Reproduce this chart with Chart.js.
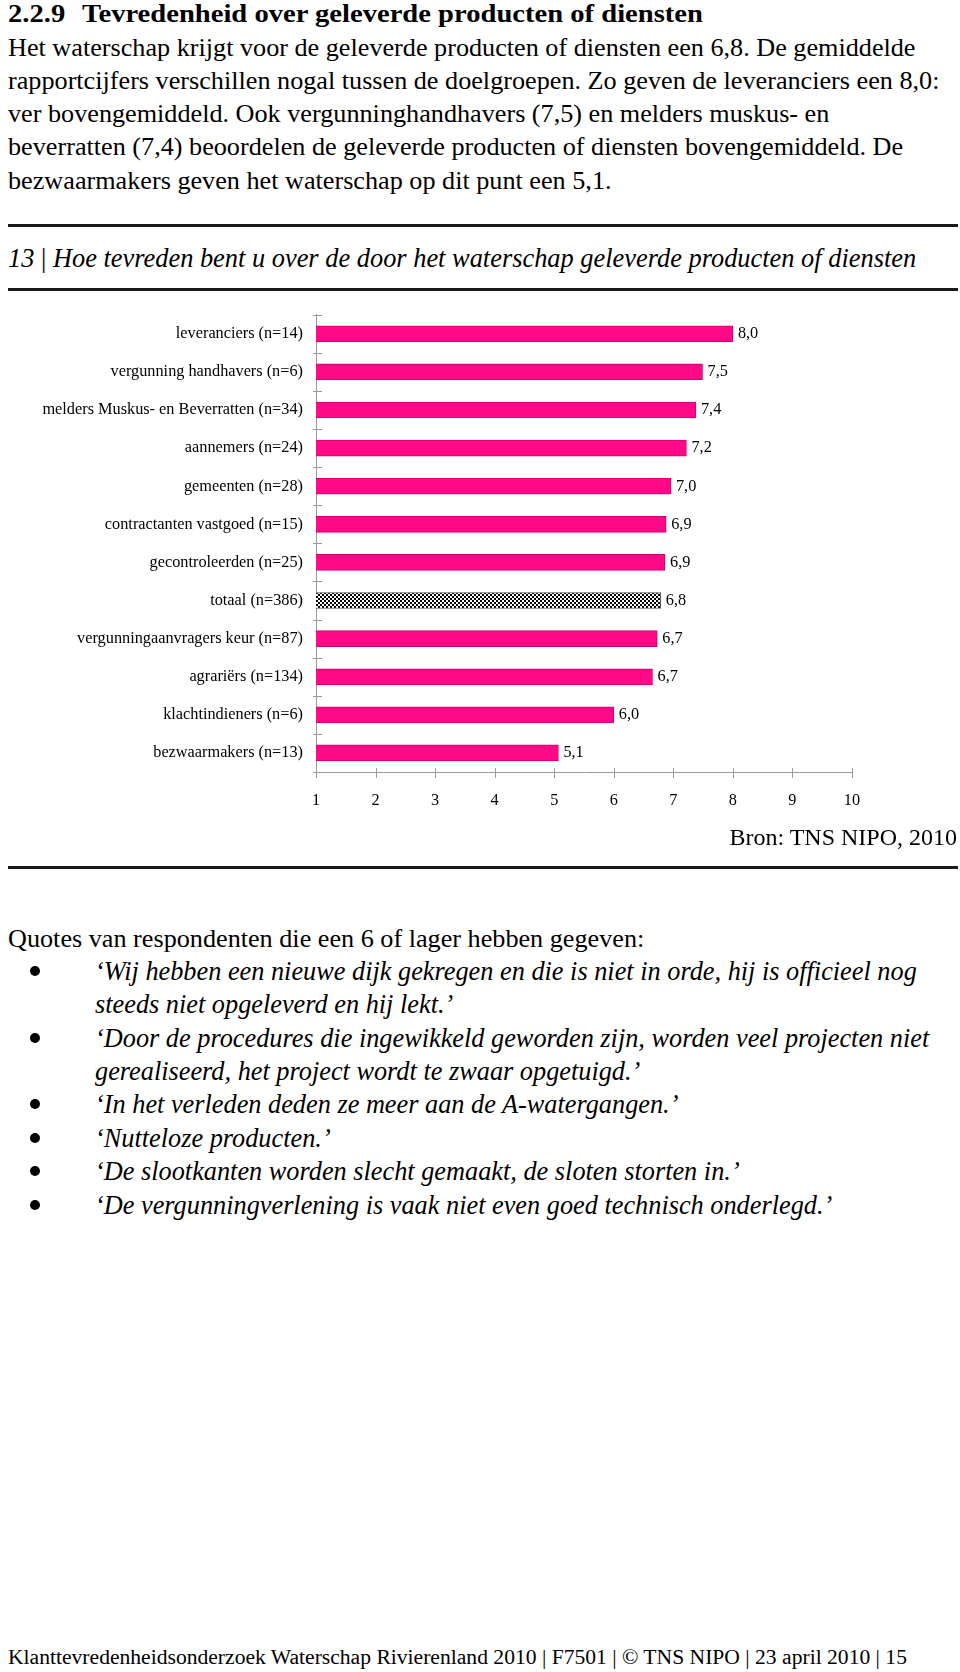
<!DOCTYPE html>
<html>
<head>
<meta charset="utf-8">
<script src="https://cdn.jsdelivr.net/npm/chart.js@4.4.1/dist/chart.umd.min.js"></script>
<style>
  html, body { margin:0; padding:0; background:#fff; }
  body { width:960px; height:1672px; position:relative; overflow:hidden; font-family:"Liberation Serif","Times New Roman",serif; color:#000; }
  .abs { position:absolute; white-space:nowrap; }
  .h { top:0px; font-size:26px; font-weight:bold; line-height:27px; transform:scaleX(1.1); transform-origin:left center; }
  .p { left:8px; font-size:26.2px; line-height:34px; }
  .rule { position:absolute; left:8px; width:950px; height:3px; background:#1a1a1a; }
  .t { left:8px; top:241px; font-size:26.4px; font-style:italic; line-height:34px; }
  .bron { right:3px; top:820px; font-size:24px; line-height:34px; }
  .q { left:95px; font-size:26.3px; font-style:italic; line-height:34px; }
  .dot { position:absolute; left:30px; width:10px; height:10px; border-radius:50%; background:#000; }
  .foot { left:8px; top:1640px; font-size:21.6px; line-height:34px; }
  #wrap { position:absolute; left:0; top:292px; width:960px; height:535px; }
</style>
</head>
<body>
<div class="abs h" style="left:8px">2.2.9</div>
<div class="abs h" style="left:82px">Tevredenheid over geleverde producten of diensten</div>
<div class="abs p" style="top:31px">Het waterschap krijgt voor de geleverde producten of diensten een 6,8. De gemiddelde</div>
<div class="abs p" style="top:64px">rapportcijfers verschillen nogal tussen de doelgroepen. Zo geven de leveranciers een 8,0:</div>
<div class="abs p" style="top:97px">ver bovengemiddeld. Ook vergunninghandhavers (7,5) en melders muskus- en</div>
<div class="abs p" style="top:130px">beverratten (7,4) beoordelen de geleverde producten of diensten bovengemiddeld. De</div>
<div class="abs p" style="top:164px">bezwaarmakers geven het waterschap op dit punt een 5,1.</div>

<div class="rule" style="top:224px"></div>
<div class="abs t">13 <span style="font-style:normal">|</span> Hoe tevreden bent u over de door het waterschap geleverde producten of diensten</div>
<div class="rule" style="top:288px"></div>

<div id="wrap"><canvas id="c" width="960" height="535"></canvas></div>

<div class="abs bron">Bron: TNS NIPO, 2010</div>
<div class="rule" style="top:866px"></div>

<div class="abs p" style="top:922px">Quotes van respondenten die een 6 of lager hebben gegeven:</div>
<div class="dot" style="top:966px"></div>
<div class="abs q" style="top:955px">‘Wij hebben een nieuwe dijk gekregen en die is niet in orde, hij is officieel nog</div>
<div class="abs q" style="top:988px">steeds niet opgeleverd en hij lekt.’</div>
<div class="dot" style="top:1033px"></div>
<div class="abs q" style="top:1022px">‘Door de procedures die ingewikkeld geworden zijn, worden veel projecten niet</div>
<div class="abs q" style="top:1055px">gerealiseerd, het project wordt te zwaar opgetuigd.’</div>
<div class="dot" style="top:1099px"></div>
<div class="abs q" style="top:1088px">‘In het verleden deden ze meer aan de A-watergangen.’</div>
<div class="dot" style="top:1133px"></div>
<div class="abs q" style="top:1122px">‘Nutteloze producten.’</div>
<div class="dot" style="top:1166px"></div>
<div class="abs q" style="top:1155px">‘De slootkanten worden slecht gemaakt, de sloten storten in.’</div>
<div class="dot" style="top:1200px"></div>
<div class="abs q" style="top:1189px">‘De vergunningverlening is vaak niet even goed technisch onderlegd.’</div>

<div class="abs foot">Klanttevredenheidsonderzoek Waterschap Rivierenland 2010 | F7501 | © TNS NIPO | 23 april 2010 | 15</div>

<script>
const categories = [
  'leveranciers (n=14)',
  'vergunning handhavers (n=6)',
  'melders Muskus- en Beverratten (n=34)',
  'aannemers (n=24)',
  'gemeenten (n=28)',
  'contractanten vastgoed (n=15)',
  'gecontroleerden (n=25)',
  'totaal (n=386)',
  'vergunningaanvragers keur (n=87)',
  'agrariërs (n=134)',
  'klachtindieners (n=6)',
  'bezwaarmakers (n=13)'
];
const scores = [8.0, 7.49, 7.38, 7.22, 6.96, 6.88, 6.86, 6.79, 6.73, 6.65, 6.0, 5.07];
const scoreLabels = ['8,0','7,5','7,4','7,2','7,0','6,9','6,9','6,8','6,7','6,7','6,0','5,1'];
const xTicks = [1, 2, 3, 4, 5, 6, 7, 8, 9, 10];
const totalCategory = 'totaal (n=386)';

const FONT = '"Liberation Serif", "Times New Roman", serif';
const PINK = '#FF0A86';
const PINK_BORDER = '#D0006A';
const AXIS = '#9a9a9a';

const pc = document.createElement('canvas');
pc.width = 4; pc.height = 4;
const pctx = pc.getContext('2d');
pctx.fillStyle = '#ffffff'; pctx.fillRect(0,0,4,4);
pctx.fillStyle = '#000000'; pctx.fillRect(0,0,2,2); pctx.fillRect(2,2,2,2);
const ctx = document.getElementById('c').getContext('2d');
const checker = ctx.createPattern(pc, 'repeat');

const bg = categories.map(c => c === totalCategory ? checker : PINK);
const bc = categories.map(c => c === totalCategory ? '#555555' : PINK_BORDER);

const tickPlugin = {
  id: 'tickPlugin',
  afterDraw(chart) {
    const c = chart.ctx;
    const xs = chart.scales.x, ys = chart.scales.y;
    c.save();
    c.strokeStyle = AXIS;
    c.lineWidth = 1;
    const n = categories.length;
    const step = (ys.bottom - ys.top) / n;
    for (let i = 0; i <= n; i++) {
      const y = Math.round(ys.top + i * step) + 0.5;
      c.beginPath(); c.moveTo(xs.left - 3, y); c.lineTo(xs.left + 6, y); c.stroke();
    }
    xTicks.forEach(v => {
      const x = Math.round(xs.getPixelForValue(v)) + 0.5;
      c.beginPath(); c.moveTo(x, ys.bottom - 4); c.lineTo(x, ys.bottom + 6); c.stroke();
    });
    c.restore();
  },
  afterDatasetsDraw(chart) {
    const c = chart.ctx;
    const meta = chart.getDatasetMeta(0);
    c.save();
    c.fillStyle = '#000';
    c.font = '16.3px ' + FONT;
    c.textAlign = 'left';
    c.textBaseline = 'middle';
    meta.data.forEach((bar, i) => {
      c.fillText(scoreLabels[i], bar.x + 5, bar.y);
    });
    c.restore();
  }
};

new Chart(ctx, {
  type: 'bar',
  data: {
    labels: categories,
    datasets: [{
      data: scores,
      backgroundColor: bg,
      borderColor: bc,
      borderWidth: 1,
      borderSkipped: false,
      barThickness: 16
    }]
  },
  options: {
    indexAxis: 'y',
    responsive: false,
    animation: false,
    events: [],
    layout: { padding: { left: 0, right: 108, top: 0, bottom: 15 } },
    plugins: { legend: { display: false }, tooltip: { enabled: false } },
    scales: {
      x: {
        type: 'linear',
        min: 1, max: 10,
        afterBuildTicks(scale) { scale.ticks = xTicks.map(v => ({ value: v })); },
        afterFit(scale) { scale.height = 40; },
        grid: { display: true, drawOnChartArea: false, drawTicks: false, color: AXIS },
        border: { display: true, color: AXIS, width: 1 },
        ticks: { color: '#000', font: { family: FONT, size: 16.3 }, padding: 19 }
      },
      y: {
        type: 'category',
        afterFit(scale) { scale.width = 316; },
        grid: { display: true, drawOnChartArea: false, drawTicks: false, offset: true, color: AXIS },
        border: { display: true, color: AXIS, width: 1 },
        ticks: { color: '#000', font: { family: FONT, size: 16.3 }, padding: 13, autoSkip: false }
      }
    }
  },
  plugins: [tickPlugin]
});
</script>
</body>
</html>
